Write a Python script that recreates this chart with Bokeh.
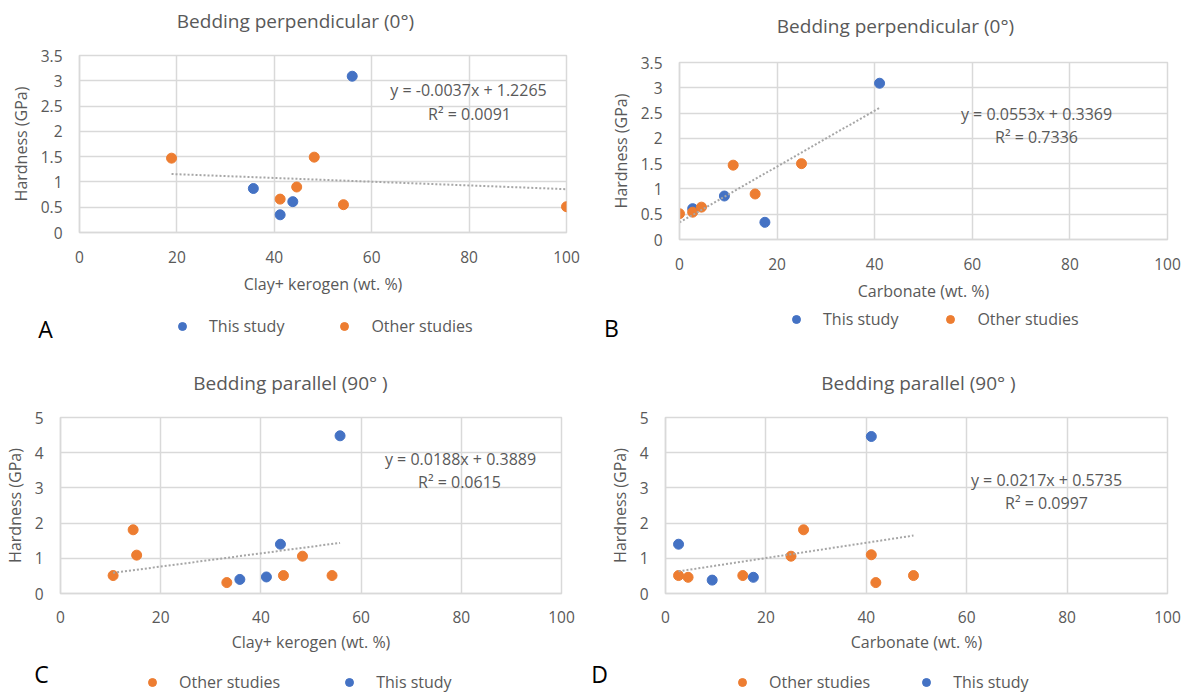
from bokeh.plotting import figure
from bokeh.models import Range1d, FixedTicker, Label, Legend, LegendItem
from bokeh.layouts import row, column
from bokeh.embed import file_html
from bokeh.resources import INLINE

FONT = "Open Sans"
GREY = "#595959"
GRID = "#D9D9D9"
BLUE = "#4472C4"
ORANGE = "#ED7D31"
TREND = "#A6A6A6"
NAN = float("nan")

# ---------------- data ----------------
x_ticks = [0, 20, 40, 60, 80, 100]
x_tick_labels = ["0", "20", "40", "60", "80", "100"]
y_ticks_perp = [0, 0.5, 1, 1.5, 2, 2.5, 3, 3.5]
y_tick_labels_perp = ["0", "0.5", "1", "1.5", "2", "2.5", "3", "3.5"]
y_ticks_par = [0, 1, 2, 3, 4, 5]
y_tick_labels_par = ["0", "1", "2", "3", "4", "5"]

# A: bedding perpendicular vs clay + kerogen
A_this_x = [56.0, 35.7, 43.8, 41.2]
A_this_y = [3.09, 0.87, 0.61, 0.35]
A_other_x = [18.9, 48.2, 44.6, 41.2, 54.2, 100.0]
A_other_y = [1.47, 1.49, 0.90, 0.66, 0.55, 0.51]
A_fit = [-0.0037, 1.2265]

# B: bedding perpendicular vs carbonate
B_this_x = [41.0, 9.2, 2.7, 17.5]
B_this_y = [3.09, 0.86, 0.61, 0.34]
B_other_x = [0.0, 2.7, 4.5, 11.0, 25.0, 15.5]
B_other_y = [0.51, 0.54, 0.64, 1.47, 1.50, 0.90]
B_fit = [0.0553, 0.3369]

# C: bedding parallel vs clay + kerogen
C_other_x = [14.5, 15.2, 10.5, 33.2, 44.5, 48.3, 54.2]
C_other_y = [1.81, 1.09, 0.51, 0.31, 0.51, 1.06, 0.51]
C_this_x = [55.8, 43.9, 35.8, 41.1]
C_this_y = [4.48, 1.40, 0.40, 0.47]
C_fit = [0.0188, 0.3889]

# D: bedding parallel vs carbonate
D_other_x = [2.6, 4.5, 15.4, 25.0, 27.5, 41.0, 41.9, 49.4]
D_other_y = [0.51, 0.46, 0.51, 1.06, 1.81, 1.10, 0.31, 0.51]
D_this_x = [41.0, 2.6, 9.3, 17.5]
D_this_y = [4.46, 1.40, 0.38, 0.46]
D_fit = [0.0217, 0.5735]

titles = ["Bedding perpendicular (0°)", "Bedding perpendicular (0°)",
          "Bedding parallel (90° )", "Bedding parallel (90° )"]
x_labels = ["Clay+ kerogen (wt. %)", "Carbonate (wt. %)",
            "Clay+ kerogen (wt. %)", "Carbonate (wt. %)"]
y_label = "Hardness (GPa)"
equations = [("y = -0.0037x + 1.2265", "R² = 0.0091"),
             ("y = 0.0553x + 0.3369", "R² = 0.7336"),
             ("y = 0.0188x + 0.3889", "R² = 0.0615"),
             ("y = 0.0217x + 0.5735", "R² = 0.0997")]
letters = ["A", "B", "C", "D"]
series_names = ["This study", "Other studies"]


def blank(w, h):
    s = figure(width=w, height=h, output_backend="svg", toolbar_location=None,
               x_range=Range1d(0, w), y_range=Range1d(0, h),
               x_axis_type=None, y_axis_type=None,
               min_border=0, min_border_left=0, min_border_right=0,
               min_border_top=0, min_border_bottom=0,
               background_fill_color="white", border_fill_color="white")
    s.outline_line_color = None
    s.grid.visible = False
    return s


def title_strip(w, h, text, x, y):
    s = blank(w, h)
    s.add_layout(Label(x=x, y=y, text=text, text_font=FONT, text_font_size="19px",
                       text_color=GREY, text_align="center", text_baseline="middle"))
    return s


def bottom_strip(w, h, letter, lx, ly, series, loc, spacing):
    s = blank(w, h)
    s.add_layout(Label(x=lx, y=ly, text=letter, text_font=FONT, text_font_size="23px",
                       text_color="black", text_align="center",
                       text_baseline="alphabetic"))
    items = []
    for name, col in series:
        # legend key only: a single undefined (NaN) point is never drawn
        r = s.scatter(x=[NAN], y=[NAN], size=10, fill_color=col, line_color=col)
        items.append(LegendItem(label=name, renderers=[r]))
    legend = Legend(items=items, location=loc, orientation="horizontal",
                    label_text_font=FONT, label_text_font_size="16px",
                    label_text_color=GREY, glyph_width=20, glyph_height=20,
                    label_standoff=17, spacing=spacing, padding=0, margin=0,
                    border_line_color=None, background_fill_alpha=0)
    s.add_layout(legend)
    return s


def main_panel(w, h, frame, ymax, yticks, ylabels, series, fit, xlabel, eq, eqpos,
               xstand=(18, 7)):
    left, right, top, bottom = frame
    p = figure(width=w, height=h, output_backend="svg", toolbar_location=None,
               x_range=Range1d(0, 100), y_range=Range1d(0, ymax),
               min_border_left=left, min_border_right=w - right,
               min_border_top=top, min_border_bottom=h - bottom,
               background_fill_color="white", border_fill_color="white")
    p.outline_line_color = GRID
    p.outline_line_width = 1.5

    xt = FixedTicker(ticks=x_ticks, minor_ticks=[])
    yt = FixedTicker(ticks=yticks, minor_ticks=[])
    p.xaxis.ticker = xt
    p.yaxis.ticker = yt
    p.xaxis.major_label_overrides = {t: l for t, l in zip(x_ticks, x_tick_labels)}
    p.yaxis.major_label_overrides = {t: l for t, l in zip(yticks, ylabels)}
    p.xgrid.ticker = xt
    p.ygrid.ticker = yt
    for g in (p.xgrid, p.ygrid):
        g.grid_line_color = GRID
        g.grid_line_width = 1.5
    for ax in (p.xaxis, p.yaxis):
        ax.axis_line_color = GRID
        ax.axis_line_width = 1.5
        ax.major_tick_line_color = None
        ax.minor_tick_line_color = None
        ax.major_tick_out = 0
        ax.major_tick_in = 0
        ax.major_label_text_font = FONT
        ax.major_label_text_font_size = "15.5px"
        ax.major_label_text_color = GREY
        ax.axis_label_text_font = FONT
        ax.axis_label_text_font_size = "16px"
        ax.axis_label_text_font_style = "normal"
        ax.axis_label_text_color = GREY
    p.xaxis.axis_label = xlabel
    p.yaxis.axis_label = y_label
    p.xaxis.major_label_standoff = xstand[0]
    p.xaxis.axis_label_standoff = xstand[1]
    p.yaxis.major_label_standoff = 17
    p.yaxis.axis_label_standoff = 6

    for name, xs, ys, col in series:
        p.scatter(xs, ys, size=10, fill_color=col, line_color=col)

    allx = [x for s in series for x in s[1]]
    x0, x1 = min(allx), max(allx)
    p.line([x0, x1], [fit[0] * x0 + fit[1], fit[0] * x1 + fit[1]],
           line_color=TREND, line_width=2, line_dash="2 2")

    def to_data(fx, fy):
        return ((fx - left) / (right - left) * 100.0,
                (bottom - fy) / (bottom - top) * ymax)

    for txt, (fx, fy) in zip(eq, eqpos):
        dx, dy = to_data(fx, fy)
        p.add_layout(Label(x=dx, y=dy, text=txt, text_font=FONT,
                           text_font_size="16px", text_color=GREY,
                           text_align="center", text_baseline="middle"))
    return p


LW, RW = 580, 609

# ---- A ----
A_series = [(series_names[0], A_this_x, A_this_y, BLUE),
            (series_names[1], A_other_x, A_other_y, ORANGE)]
At = title_strip(LW, 40, titles[0], 295, 20)
Am = main_panel(LW, 258, (79, 566, 15, 192), 3.5, y_ticks_perp, y_tick_labels_perp,
                A_series, A_fit, x_labels[0], equations[0], [(468, 49), (469, 73)])
As = bottom_strip(LW, 47, letters[0], 45, 17,
                  [(n, c) for n, _, _, c in A_series], (172, 8), 50)

# ---- B ----
B_series = [(series_names[0], B_this_x, B_this_y, BLUE),
            (series_names[1], B_other_x, B_other_y, ORANGE)]
Bt = title_strip(RW, 47, titles[1], 315, 22)
Bm = main_panel(RW, 258, (99, 587, 15, 192), 3.5, y_ticks_perp, y_tick_labels_perp,
                B_series, B_fit, x_labels[1], equations[1], [(456, 66), (456, 89)])
Bs = bottom_strip(RW, 40, letters[1], 31, 18,
                  [(n, c) for n, _, _, c in B_series], (206, 15), 42)

# ---- C ----
C_series = [(series_names[1], C_other_x, C_other_y, ORANGE),
            (series_names[0], C_this_x, C_this_y, BLUE)]
Ct = title_strip(LW, 52, titles[2], 290, 15)
Cm = main_panel(LW, 259, (60, 561, 20, 196), 5, y_ticks_par, y_tick_labels_par,
                C_series, C_fit, x_labels[2], equations[2], [(460, 61), (459, 84)],
                xstand=(17, 5))
Cs = bottom_strip(LW, 39, letters[2], 41, 22,
                  [(n, c) for n, _, _, c in C_series], (142, 2), 59)

# ---- D ----
D_series = [(series_names[1], D_other_x, D_other_y, ORANGE),
            (series_names[0], D_this_x, D_this_y, BLUE)]
Dt = title_strip(RW, 52, titles[3], 338, 15)
Dm = main_panel(RW, 259, (85, 587, 20, 196), 5, y_ticks_par, y_tick_labels_par,
                D_series, D_fit, x_labels[3], equations[3], [(466, 82), (466, 105)],
                xstand=(17, 5))
Ds = bottom_strip(RW, 39, letters[3], 19, 22,
                  [(n, c) for n, _, _, c in D_series], (152, 2), 46)


def stack(*figs):
    return column(*[row(f) for f in figs])


layout = column(row(stack(At, Am, As), stack(Bt, Bm, Bs)),
                row(stack(Ct, Cm, Cs), stack(Dt, Dm, Ds)))
open("out.html", "w").write(file_html(layout, INLINE))
